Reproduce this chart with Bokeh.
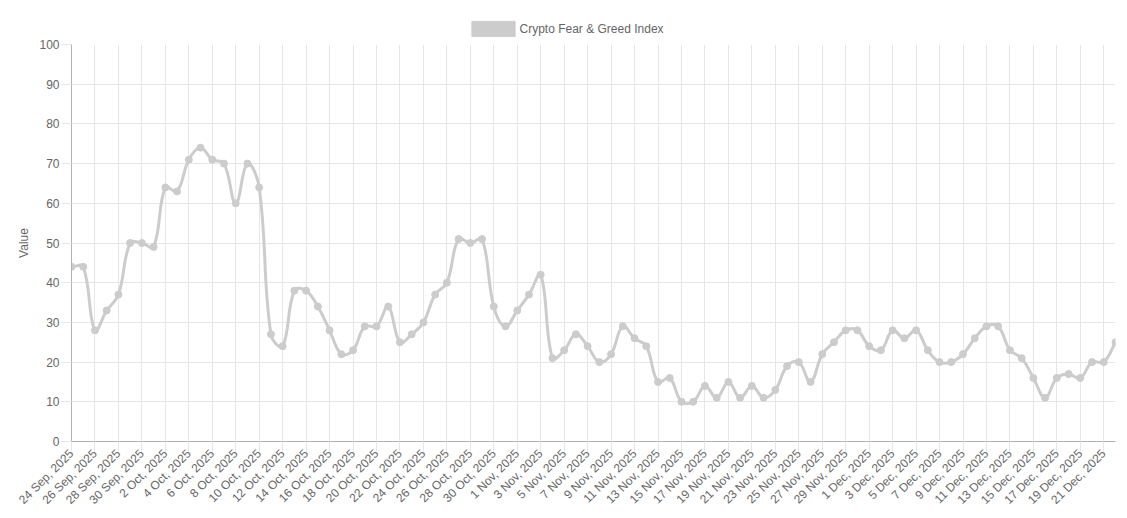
import numpy as np
from bokeh.plotting import figure
from bokeh.layouts import column
from bokeh.models import (Range1d, FixedTicker, Legend, LegendItem, ColumnDataSource)
from bokeh.embed import file_html
from bokeh.resources import INLINE

dates = ["24 Sep, 2025", "25 Sep, 2025", "26 Sep, 2025", "27 Sep, 2025", "28 Sep, 2025",
         "29 Sep, 2025", "30 Sep, 2025",
         "1 Oct, 2025", "2 Oct, 2025", "3 Oct, 2025", "4 Oct, 2025", "5 Oct, 2025", "6 Oct, 2025",
         "7 Oct, 2025", "8 Oct, 2025", "9 Oct, 2025", "10 Oct, 2025", "11 Oct, 2025", "12 Oct, 2025",
         "13 Oct, 2025", "14 Oct, 2025", "15 Oct, 2025", "16 Oct, 2025", "17 Oct, 2025", "18 Oct, 2025",
         "19 Oct, 2025", "20 Oct, 2025", "21 Oct, 2025", "22 Oct, 2025", "23 Oct, 2025", "24 Oct, 2025",
         "25 Oct, 2025", "26 Oct, 2025", "27 Oct, 2025", "28 Oct, 2025", "29 Oct, 2025", "30 Oct, 2025",
         "31 Oct, 2025",
         "1 Nov, 2025", "2 Nov, 2025", "3 Nov, 2025", "4 Nov, 2025", "5 Nov, 2025", "6 Nov, 2025",
         "7 Nov, 2025", "8 Nov, 2025", "9 Nov, 2025", "10 Nov, 2025", "11 Nov, 2025", "12 Nov, 2025",
         "13 Nov, 2025", "14 Nov, 2025", "15 Nov, 2025", "16 Nov, 2025", "17 Nov, 2025", "18 Nov, 2025",
         "19 Nov, 2025", "20 Nov, 2025", "21 Nov, 2025", "22 Nov, 2025", "23 Nov, 2025", "24 Nov, 2025",
         "25 Nov, 2025", "26 Nov, 2025", "27 Nov, 2025", "28 Nov, 2025", "29 Nov, 2025", "30 Nov, 2025",
         "1 Dec, 2025", "2 Dec, 2025", "3 Dec, 2025", "4 Dec, 2025", "5 Dec, 2025", "6 Dec, 2025",
         "7 Dec, 2025", "8 Dec, 2025", "9 Dec, 2025", "10 Dec, 2025", "11 Dec, 2025", "12 Dec, 2025",
         "13 Dec, 2025", "14 Dec, 2025", "15 Dec, 2025", "16 Dec, 2025", "17 Dec, 2025", "18 Dec, 2025",
         "19 Dec, 2025", "20 Dec, 2025", "21 Dec, 2025", "22 Dec, 2025"]

values = [44, 44, 28, 33, 37, 50, 50,
          49, 64, 63, 71, 74, 71, 70, 60, 70, 64, 27, 24, 38, 38, 34, 28, 22, 23, 29, 29, 34, 25,
          27, 30, 37, 40, 51, 50, 51, 34, 29,
          33, 37, 42, 21, 23, 27, 24, 20, 22, 29, 26, 24, 15, 16, 10, 10, 14, 11, 15, 11, 14, 11,
          13, 19, 20, 15, 22, 25, 28, 28,
          24, 23, 28, 26, 28, 23, 20, 20, 22, 26, 29, 29, 23, 21, 16, 11, 16, 17, 16, 20, 20, 25]

series_name = "Crypto Fear & Greed Index"
y_ticks = [0, 10, 20, 30, 40, 50, 60, 70, 80, 90, 100]

LINE = "#cccccc"
GRID = "#e6e6e6"
AXIS = "#b3b3b3"
TXT = "#666666"
FONT = "Liberation Sans"

n = len(values)
xi = np.arange(n, dtype=float)
yv = np.array(values, dtype=float)

# Chart.js-style bezier control points (tension 0.4), distances in pixel space
sx, sy = 11.73, 3.97
px, py = xi * sx, yv * sy
t = 0.4
prev_x, prev_y = px.copy(), py.copy()
next_x, next_y = px.copy(), py.copy()
for i in range(n):
    p0 = (px[max(i - 1, 0)], py[max(i - 1, 0)])
    p1 = (px[i], py[i])
    p2 = (px[min(i + 1, n - 1)], py[min(i + 1, n - 1)])
    d01 = np.hypot(p1[0] - p0[0], p1[1] - p0[1])
    d12 = np.hypot(p2[0] - p1[0], p2[1] - p1[1])
    tot = d01 + d12
    s01 = d01 / tot if tot else 0.0
    s12 = d12 / tot if tot else 0.0
    fa, fb = t * s01, t * s12
    prev_x[i] = p1[0] - fa * (p2[0] - p0[0])
    prev_y[i] = p1[1] - fa * (p2[1] - p0[1])
    next_x[i] = p1[0] + fb * (p2[0] - p0[0])
    next_y[i] = p1[1] + fb * (p2[1] - p0[1])
prev_y = np.clip(prev_y, 0, 100 * sy)
next_y = np.clip(next_y, 0, 100 * sy)

bez = ColumnDataSource(dict(
    x0=xi[:-1], y0=yv[:-1], x1=xi[1:], y1=yv[1:],
    cx0=next_x[:-1] / sx, cy0=next_y[:-1] / sy,
    cx1=prev_x[1:] / sx, cy1=prev_y[1:] / sy,
))

# ---- header strip holding the legend ----
header = figure(width=1127, height=37, output_backend="svg", toolbar_location=None,
                x_axis_type=None, y_axis_type=None,
                x_range=Range1d(0, 1), y_range=Range1d(0, 1),
                min_border=0)
header.outline_line_color = None
header.xgrid.visible = False
header.ygrid.visible = False
swatch = header.quad(left=[-10], right=[-9], top=[1], bottom=[0],
                     fill_color=LINE, line_color=LINE)
legend = Legend(items=[LegendItem(label=series_name, renderers=[swatch])],
                orientation="horizontal", location=(394.5, -1),
                glyph_width=54, glyph_height=19, label_height=19, label_standoff=0,
                padding=0, margin=0, spacing=0,
                label_text_font=FONT, label_text_font_size="12px", label_text_color=TXT,
                border_line_alpha=0, background_fill_alpha=0)
header.add_layout(legend, "center")

# ---- main chart ----
p = figure(width=1127, height=481, output_backend="svg", toolbar_location=None,
           x_range=Range1d(0, n - 1), y_range=Range1d(0, 100),
           min_border_left=71, min_border_right=12, min_border_bottom=77, min_border_top=7)
p.outline_line_color = None
p.background_fill_color = "white"

p.bezier(x0="x0", y0="y0", x1="x1", y1="y1", cx0="cx0", cy0="cy0", cx1="cx1", cy1="cy1",
         source=bez, line_color=LINE, line_width=3)
p.scatter(xi, yv, size=7, fill_color=LINE, line_color=LINE)

xt = list(range(0, n, 2))
p.xaxis.ticker = FixedTicker(ticks=xt)
p.xaxis.major_label_overrides = {i: dates[i] for i in xt}
p.xaxis.major_label_orientation = np.pi / 4
p.yaxis.ticker = FixedTicker(ticks=y_ticks)
p.yaxis.axis_label = "Value"

for ax in (p.xaxis[0], p.yaxis[0]):
    ax.axis_line_color = AXIS
    ax.major_tick_line_color = GRID
    ax.minor_tick_line_color = None
    ax.major_tick_in = 0
    ax.major_label_text_font = FONT
    ax.major_label_text_font_size = "12px"
    ax.major_label_text_color = TXT
    ax.axis_label_text_font = FONT
    ax.axis_label_text_font_size = "12px"
    ax.axis_label_text_color = TXT
    ax.axis_label_text_font_style = "normal"
p.xaxis.major_tick_out = 10
p.xaxis.major_label_standoff = 0
p.yaxis.major_tick_out = 10
p.yaxis.major_label_standoff = 2
p.yaxis.axis_label_standoff = 5

p.xgrid.ticker = FixedTicker(ticks=xt)
p.ygrid.ticker = FixedTicker(ticks=y_ticks)
p.xgrid.grid_line_color = GRID
p.ygrid.grid_line_color = GRID

layout = column(header, p, spacing=0)
open("out.html", "w").write(file_html(layout, INLINE))
